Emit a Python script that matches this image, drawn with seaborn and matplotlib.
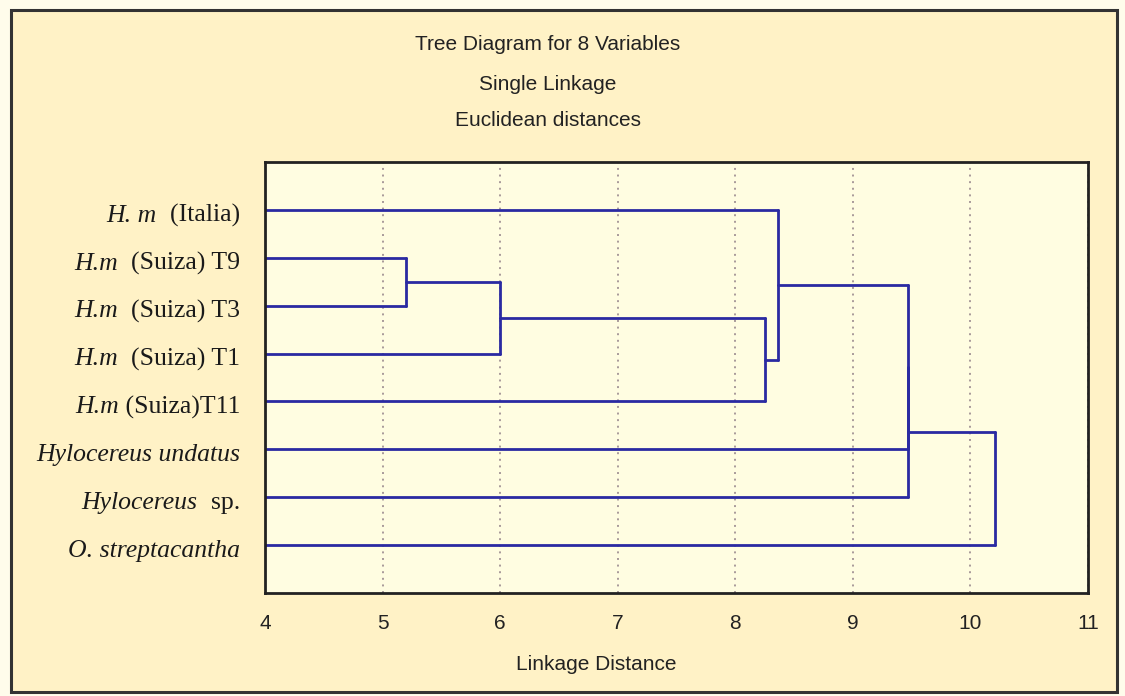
import matplotlib
matplotlib.use("Agg")
import matplotlib.pyplot as plt
import seaborn as sns
import pandas as pd
from matplotlib.patches import Rectangle

# ---- data ----
label_italic = ["H. m", "H.m", "H.m", "H.m", "H.m",
                "Hylocereus undatus", "Hylocereus", "O. streptacantha"]
label_roman = ["  (Italia)", "  (Suiza) T9", "  (Suiza) T3", "  (Suiza) T1",
               " (Suiza)T11", "", "  sp.", ""]
# merges: (child_a, child_b, linkage distance); leaves are 0..7, new clusters 8..
merge_a = [1, 8, 9, 0, 11, 12, 13]
merge_b = [2, 3, 4, 10, 5, 6, 7]
merge_dist = [5.20, 6.00, 8.25, 8.36, 9.47, 9.47, 10.21]
x_ticks = [4, 5, 6, 7, 8, 9, 10, 11]

title_lines = ["Tree Diagram for 8 Variables", "Single Linkage", "Euclidean distances"]
x_label = "Linkage Distance"

# ---- build dendrogram segments ----
n = len(label_italic)
node_x = {i: x_ticks[0] for i in range(n)}
node_y = {i: float(i) for i in range(n)}
rows = []
seg = 0
for k, (a, b, d) in enumerate(zip(merge_a, merge_b, merge_dist)):
    nid = n + k
    for c in (a, b):
        rows.append((seg, node_x[c], node_y[c])); rows.append((seg, d, node_y[c])); seg += 1
    rows.append((seg, d, node_y[a])); rows.append((seg, d, node_y[b])); seg += 1
    node_x[nid] = d
    node_y[nid] = (node_y[a] + node_y[b]) / 2
df = pd.DataFrame(rows, columns=["seg", "x", "y"])

# ---- style ----
sns.set_style("white")
plt.rcParams["font.family"] = ["Liberation Sans", "DejaVu Sans"]

W, H = 1125, 696
fig = plt.figure(figsize=(W / 100, H / 100), dpi=100)
fig.patch.set_facecolor("#FFFCEB")
fig.patches.append(Rectangle((11 / W, 1 - 692 / H), (1117 - 11) / W, (692 - 10) / H,
                             transform=fig.transFigure, facecolor="#FFF2C6",
                             edgecolor="#333333", lw=2.2, zorder=-10))

ax = fig.add_axes([265 / W, 1 - 593 / H, (1088 - 265) / W, (593 - 162) / H])
ax.set_facecolor("#FFFDE1")

line_color = "#2A2AA2"
sns.lineplot(data=df, x="x", y="y", units="seg", estimator=None, sort=False,
             color=line_color, lw=2.0, ax=ax, legend=False)

ax.set_xlim(x_ticks[0], x_ticks[-1])
ax.set_ylim(8, -1)
ax.set_xticks(x_ticks)
ax.set_xticklabels([str(t) for t in x_ticks])
ax.set_yticks([])
ax.set_xlabel("")
ax.set_ylabel("")
ax.tick_params(axis="x", direction="in", length=3, width=1.2, pad=15,
               labelsize=15, colors="#222222")
ax.grid(axis="x", linestyle=(0, (1, 2.4)), color="#A89A9A", lw=1.4)
ax.grid(axis="y", visible=False)
for s in ax.spines.values():
    s.set_visible(True)
    s.set_color("#222222")
    s.set_linewidth(2)

# ---- leaf labels (mixed italic / roman) ----
tr = ax.get_yaxis_transform()
serif = ["Liberation Serif", "DejaVu Serif"]
lx = (240 - 265) / (1088 - 265)
fs = 18.5
off = (0, -8.5)
for i, (it, ro) in enumerate(zip(label_italic, label_roman)):
    if ro:
        anchor = ax.annotate(ro, xy=(lx, i), xycoords=tr, xytext=off,
                             textcoords="offset points", ha="right", va="baseline",
                             family=serif, fontsize=fs, color="#1a1a1a")
        ax.annotate(it, xy=(0, i), xycoords=(anchor, "data"), xytext=off,
                    textcoords="offset points", ha="right", va="baseline",
                    family=serif, style="italic", fontsize=fs, color="#1a1a1a")
    else:
        ax.annotate(it, xy=(lx, i), xycoords=tr, xytext=off,
                    textcoords="offset points", ha="right", va="baseline",
                    family=serif, style="italic", fontsize=fs, color="#1a1a1a")

# ---- titles ----
for yy, t in zip([45, 84, 121], title_lines):
    fig.text(548 / W, 1 - yy / H, t, ha="center", va="center", fontsize=15,
             color="#222222")
fig.text(596 / W, 1 - 665 / H, x_label, ha="center", va="center", fontsize=15,
         color="#222222")

fig.savefig("out.png", dpi=100, facecolor=fig.get_facecolor())
